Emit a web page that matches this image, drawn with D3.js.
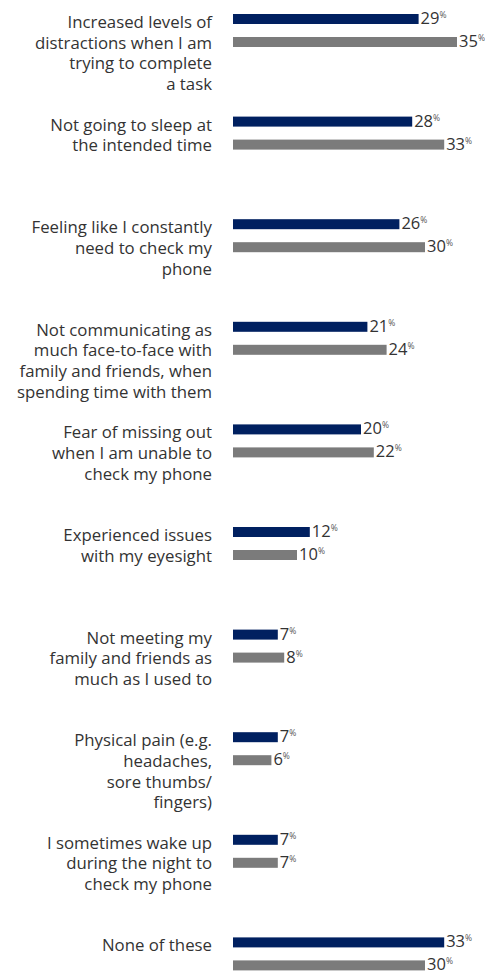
<!DOCTYPE html>
<html>
<head>
<meta charset="utf-8">
<script src="https://cdn.jsdelivr.net/npm/d3@7"></script>
<style>
  html, body { margin: 0; padding: 0; background: #fff; }
  svg { display: block; font-family: "Open Sans", sans-serif; font-weight: 400; }
</style>
</head>
<body>
<svg id="chart" width="485" height="974"></svg>
<script>
// Category labels, pre-wrapped into lines
const categories = [
  ["Increased levels of", "distractions when I am", "trying to complete", "a task"],
  ["Not going to sleep at", "the intended time"],
  ["Feeling like I constantly", "need to check my", "phone"],
  ["Not communicating as", "much face-to-face with", "family and friends, when", "spending time with them"],
  ["Fear of missing out", "when I am unable to", "check my phone"],
  ["Experienced issues", "with my eyesight"],
  ["Not meeting my", "family and friends as", "much as I used to"],
  ["Physical pain (e.g.", "headaches,", "sore thumbs/", "fingers)"],
  ["I sometimes wake up", "during the night to", "check my phone"],
  ["None of these"]
];

// Percentages for the two series (navy first, grey second)
const seriesNavy = [29, 28, 26, 21, 20, 12, 7, 7, 7, 33];
const seriesGrey = [35, 33, 30, 24, 22, 10, 8, 6, 7, 30];

const colors = { navy: "#002060", grey: "#7b7b7b" };
const textColor = "#333333";

const svg = d3.select("#chart");

const x = d3.scaleLinear().domain([0, 35]).range([233, 457]);
const y = d3.scalePoint()
  .domain(d3.range(categories.length))
  .range([14, 937.4]);

const barH = 10;
const gap = 23;

const rows = categories.map((lines, i) => ({
  i, lines,
  bars: [
    { key: "navy", v: seriesNavy[i], off: 0 },
    { key: "grey", v: seriesGrey[i], off: gap }
  ]
}));

const g = svg.selectAll("g.row").data(rows).join("g")
  .attr("class", "row")
  .attr("transform", d => `translate(0,${y(d.i)})`);

// category text, right aligned next to the bars
g.append("text")
  .attr("text-anchor", "end")
  .attr("fill", textColor)
  .style("font-size", "16.8px")
  .selectAll("tspan").data(d => d.lines).join("tspan")
  .attr("x", 212)
  .attr("y", (d, k) => 14 + k * 20.7)
  .text(d => d);

const bar = g.selectAll("g.bar").data(d => d.bars).join("g")
  .attr("class", "bar")
  .attr("transform", d => `translate(0,${d.off})`);

bar.append("rect")
  .attr("x", x(0))
  .attr("y", 0)
  .attr("height", barH)
  .attr("width", d => x(d.v) - x(0))
  .attr("fill", d => colors[d.key]);

const lbl = bar.append("text")
  .attr("x", d => x(d.v) + 2)
  .attr("y", barH)
  .attr("fill", textColor);
lbl.append("tspan")
  .style("font-size", "16.5px")
  .text(d => d.v);
lbl.append("tspan")
  .style("font-size", "8.5px")
  .attr("dy", -6)
  .attr("fill", "#555")
  .text("%");
</script>
</body>
</html>
